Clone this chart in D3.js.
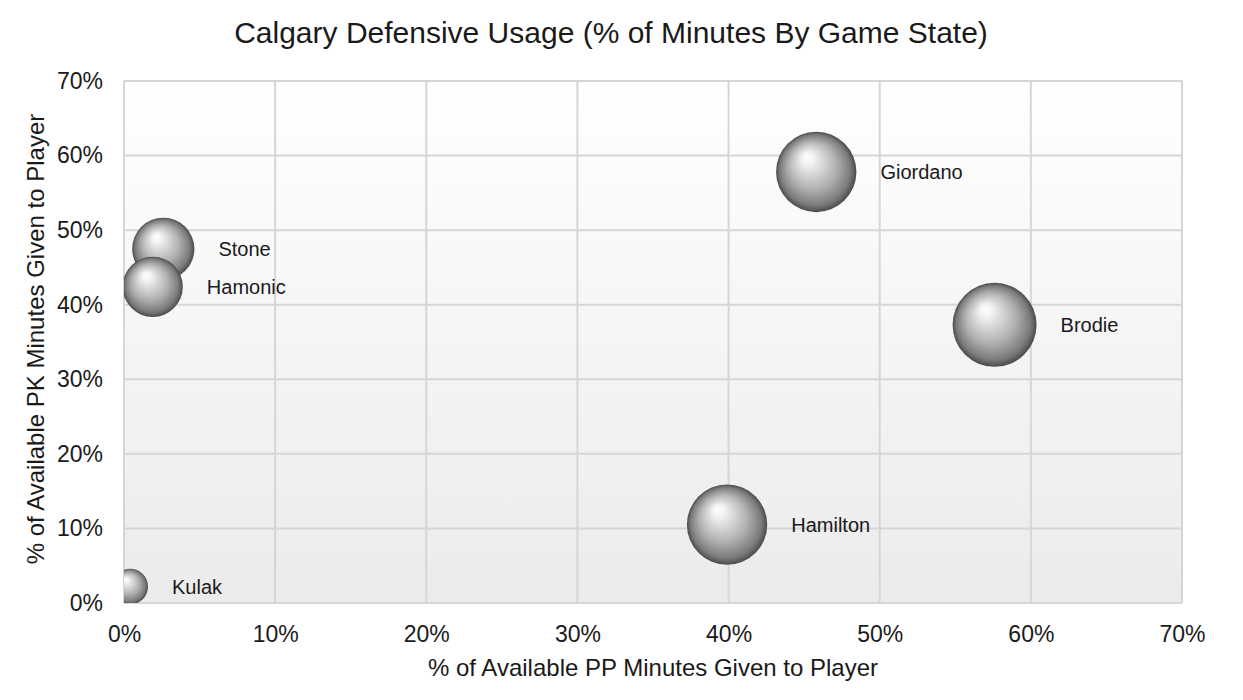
<!DOCTYPE html>
<html>
<head>
<meta charset="utf-8">
<script src="https://cdn.jsdelivr.net/npm/d3@7"></script>
<style>
  body { margin: 0; background: #fff; }
  svg { display: block; font-family: "Liberation Sans", Arial, sans-serif; }
</style>
</head>
<body>
<svg id="chart" width="1243" height="700"></svg>
<script>
// Chart data
const players = ['Giordano', 'Brodie', 'Hamilton', 'Stone', 'Hamonic', 'Kulak'];
const ppShare = [0.458, 0.576, 0.399, 0.026, 0.019, 0.004];
const pkShare = [0.578, 0.373, 0.105, 0.475, 0.424, 0.022];
const bubbleSize = [1600, 1750, 1600, 960, 900, 320];
const tickValues = [0, 0.1, 0.2, 0.3, 0.4, 0.5, 0.6, 0.7];

const svg = d3.select('#chart');
const margin = { left: 124, right: 61, top: 81, bottom: 97 };
const width = 1243, height = 700;

const x = d3.scaleLinear().domain([0, 0.7]).range([margin.left, width - margin.right]);
const y = d3.scaleLinear().domain([0, 0.7]).range([height - margin.bottom, margin.top]);
const r = d3.scaleSqrt().domain([0, 1750]).range([0, 42]);

const defs = svg.append('defs');

// Plot background gradient
const bg = defs.append('linearGradient').attr('id', 'bg')
    .attr('x1', 0).attr('y1', 0).attr('x2', 0).attr('y2', 1);
bg.append('stop').attr('offset', '0%').attr('stop-color', '#ffffff');
bg.append('stop').attr('offset', '100%').attr('stop-color', '#ebebeb');

// Sphere shading
const ball = defs.append('radialGradient').attr('id', 'ball')
    .attr('cx', '50%').attr('cy', '50%').attr('r', '50%')
    .attr('fx', '38%').attr('fy', '30%');
ball.append('stop').attr('offset', '0%').attr('stop-color', '#ffffff');
ball.append('stop').attr('offset', '15%').attr('stop-color', '#f2f2f2');
ball.append('stop').attr('offset', '60%').attr('stop-color', '#b0b0b0');
ball.append('stop').attr('offset', '88%').attr('stop-color', '#7a7a7a');
ball.append('stop').attr('offset', '100%').attr('stop-color', '#4a4a4a');

defs.append('clipPath').attr('id', 'plotClip')
  .append('rect')
    .attr('x', x(0)).attr('y', y(0.7))
    .attr('width', x(0.7) - x(0)).attr('height', y(0) - y(0.7));

// Plot area
svg.append('rect')
    .attr('x', x(0)).attr('y', y(0.7))
    .attr('width', x(0.7) - x(0)).attr('height', y(0) - y(0.7))
    .attr('fill', 'url(#bg)');

// Gridlines
svg.append('g')
  .selectAll('line.v')
  .data(tickValues)
  .enter().append('line')
    .attr('x1', d => x(d)).attr('x2', d => x(d))
    .attr('y1', y(0)).attr('y2', y(0.7))
    .attr('stroke', '#d6d6d6').attr('stroke-width', 2);

svg.append('g')
  .selectAll('line.h')
  .data(tickValues)
  .enter().append('line')
    .attr('x1', x(0)).attr('x2', x(0.7))
    .attr('y1', d => y(d)).attr('y2', d => y(d))
    .attr('stroke', '#d6d6d6').attr('stroke-width', 2);

// Axes (labels only)
const fmt = d3.format('.0%');
const xAxis = svg.append('g')
    .attr('transform', `translate(0,${y(0)})`)
    .call(d3.axisBottom(x).tickValues(tickValues).tickFormat(fmt).tickSize(0).tickPadding(23));
const yAxis = svg.append('g')
    .attr('transform', `translate(${x(0)},0)`)
    .call(d3.axisLeft(y).tickValues(tickValues).tickFormat(fmt).tickSize(0).tickPadding(21));
[xAxis, yAxis].forEach(a => {
    a.select('.domain').remove();
    a.selectAll('text')
        .style('font-family', '"Liberation Sans", Arial, sans-serif')
        .style('font-size', '23px')
        .attr('fill', '#1a1a1a');
});

// Bubbles
const data = players.map((name, i) => ({
    name, px: ppShare[i], pk: pkShare[i], size: bubbleSize[i]
}));

const bubbles = svg.append('g').attr('clip-path', 'url(#plotClip)');
bubbles.selectAll('circle')
  .data(data)
  .enter().append('circle')
    .attr('cx', d => x(d.px))
    .attr('cy', d => y(d.pk))
    .attr('r', d => r(d.size))
    .attr('fill', 'url(#ball)');

svg.append('g')
  .selectAll('text')
  .data(data)
  .enter().append('text')
    .attr('x', d => x(d.px) + r(d.size) + 24)
    .attr('y', d => y(d.pk))
    .attr('dy', '0.35em')
    .style('font-size', '20px')
    .attr('fill', '#1a1a1a')
    .text(d => d.name);

// Titles
svg.append('text')
    .attr('x', 611).attr('y', 43)
    .attr('text-anchor', 'middle')
    .style('font-size', '30px')
    .attr('fill', '#1a1a1a')
    .text('Calgary Defensive Usage (% of Minutes By Game State)');

svg.append('text')
    .attr('x', 653).attr('y', 676)
    .attr('text-anchor', 'middle')
    .style('font-size', '24px')
    .attr('fill', '#1a1a1a')
    .text('% of Available PP Minutes Given to Player');

svg.append('text')
    .attr('transform', `translate(44,${y(0.35) - 3}) rotate(-90)`)
    .attr('text-anchor', 'middle')
    .style('font-size', '24px')
    .attr('fill', '#1a1a1a')
    .text('% of Available PK Minutes Given to Player');
</script>
</body>
</html>
